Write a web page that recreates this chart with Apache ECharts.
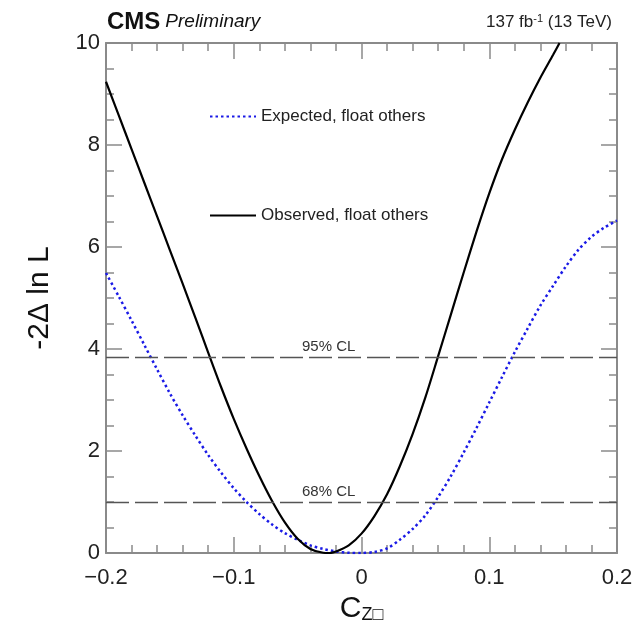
<!DOCTYPE html>
<html>
<head>
<meta charset="utf-8">
<script src="https://cdn.jsdelivr.net/npm/echarts@6/dist/echarts.min.js"></script>
<style>
  html, body { margin: 0; padding: 0; background: #fff; }
  #chart { width: 634px; height: 625px; }
</style>
</head>
<body>
<div id="chart"></div>
<script>
// observed scan, black solid
var obsX = [-0.20, -0.19, -0.18, -0.17, -0.16, -0.15, -0.14, -0.13, -0.12, -0.11, -0.10, -0.09, -0.08, -0.07, -0.06, -0.05, -0.04, -0.03, -0.025, -0.02, -0.01, 0.00, 0.01, 0.02, 0.03, 0.04, 0.05, 0.06, 0.07, 0.08, 0.09, 0.10, 0.11, 0.12, 0.13, 0.14, 0.15, 0.155];
var obsY = [9.24, 8.58, 7.92, 7.26, 6.60, 5.94, 5.28, 4.61, 3.93, 3.26, 2.63, 2.05, 1.51, 1.02, 0.60, 0.28, 0.08, 0.005, 0.00, 0.03, 0.15, 0.38, 0.72, 1.15, 1.70, 2.33, 3.05, 3.86, 4.68, 5.50, 6.30, 7.05, 7.72, 8.30, 8.83, 9.32, 9.77, 10.0];
// expected scan, blue dotted
var expX = [-0.20, -0.19, -0.18, -0.17, -0.16, -0.15, -0.14, -0.13, -0.12, -0.11, -0.10, -0.09, -0.08, -0.07, -0.06, -0.05, -0.04, -0.03, -0.02, -0.01, 0.00, 0.01, 0.02, 0.03, 0.04, 0.05, 0.06, 0.07, 0.08, 0.09, 0.10, 0.11, 0.12, 0.13, 0.14, 0.15, 0.16, 0.17, 0.18, 0.19, 0.20];
var expY = [5.49, 5.03, 4.56, 4.08, 3.60, 3.13, 2.70, 2.30, 1.92, 1.58, 1.27, 1.00, 0.765, 0.56, 0.39, 0.26, 0.15, 0.08, 0.03, 0.005, 0.00, 0.02, 0.09, 0.26, 0.47, 0.74, 1.10, 1.51, 1.97, 2.45, 2.95, 3.45, 3.94, 4.40, 4.85, 5.24, 5.62, 5.95, 6.20, 6.38, 6.52];
// confidence levels
var clNames = ['95% CL', '68% CL'];
var clValues = [3.84, 1.0];

var seriesNames = ['Expected, float others', 'Observed, float others'];

function pairs(xs, ys) {
  var out = [];
  for (var i = 0; i < xs.length; i++) out.push([xs[i], ys[i]]);
  return out;
}

var font = "'Liberation Sans', Arial, sans-serif";
var axisGrey = '#8a8a8a';

var myChart = echarts.init(document.getElementById('chart'), null, { renderer: 'canvas' });

var xBase = {
  type: 'value',
  min: -0.2,
  max: 0.2,
  interval: 0.1,
  splitLine: { show: false },
  axisLine: { show: true, onZero: false, lineStyle: { color: axisGrey, width: 2 } },
  axisTick: { show: true, inside: true, length: 16, lineStyle: { color: axisGrey, width: 1.5 } },
  minorTick: { show: true, splitNumber: 5, length: 8, lineStyle: { color: axisGrey, width: 1.5 } },
  minorSplitLine: { show: false }
};
var yBase = {
  type: 'value',
  min: 0,
  max: 10,
  interval: 2,
  splitLine: { show: false },
  axisLine: { show: true, onZero: false, lineStyle: { color: axisGrey, width: 2 } },
  axisTick: { show: true, inside: true, length: 16, lineStyle: { color: axisGrey, width: 1.5 } },
  minorTick: { show: true, splitNumber: 4, length: 8, lineStyle: { color: axisGrey, width: 1.5 } },
  minorSplitLine: { show: false }
};

var option = {
  backgroundColor: '#ffffff',
  animation: false,
  textStyle: { fontFamily: font },
  title: [
    {
      left: 107,
      top: 10,
      padding: 0,
      text: '{a|CMS} {b|Preliminary}',
      textStyle: {
        rich: {
          a: { fontFamily: font, fontSize: 24, fontWeight: 'bold', color: '#111' },
          b: { fontFamily: font, fontSize: 19, fontWeight: 'normal', fontStyle: 'italic', color: '#111' }
        }
      }
    },
    {
      right: 17,
      top: 8,
      text: '137 fb{s|-1} (13 TeV)',
      textStyle: {
        fontFamily: font, fontSize: 17, fontWeight: 'normal', color: '#222',
        rich: { s: { fontFamily: font, fontSize: 11, color: '#222', verticalAlign: 'top', padding: [0, 0, 8, 0] } }
      }
    }
  ],
  legend: {
    orient: 'vertical',
    left: 204,
    top: 103,
    itemWidth: 46,
    itemHeight: 14,
    itemGap: 82,
    data: seriesNames,
    itemStyle: { opacity: 0 },
    textStyle: { fontFamily: font, fontSize: 17, color: '#222' }
  },
  grid: {
    left: 106,
    right: 17,
    top: 43,
    bottom: 72,
    containLabel: false,
    outerBoundsMode: 'none'
  },
  xAxis: [
    Object.assign({}, xBase, {
      position: 'bottom',
      name: 'C{sub|Z□}',
      nameLocation: 'middle',
      nameGap: 40,
      nameTextStyle: {
        fontFamily: font, fontSize: 30, color: '#111',
        rich: { sub: { fontFamily: font, fontSize: 18, color: '#111', verticalAlign: 'bottom', padding: [12, 0, 0, 0] } }
      },
      axisLabel: {
        show: true, margin: 14, fontFamily: font, fontSize: 22, color: '#222',
        formatter: function (v) {
          var r = Math.round(v * 10) / 10;
          if (r === 0) return '0';
          return (r < 0 ? '\u2212' : '') + Math.abs(r).toFixed(1);
        }
      }
    }),
    Object.assign({}, xBase, {
      position: 'top',
      axisLabel: { show: false }
    })
  ],
  yAxis: [
    Object.assign({}, yBase, {
      position: 'left',
      name: '-2\u0394 ln L',
      nameLocation: 'middle',
      nameGap: 51,
      nameRotate: 90,
      nameTextStyle: { fontFamily: font, fontSize: 30, color: '#111' },
      axisLabel: { show: true, margin: 6, fontFamily: font, fontSize: 22, color: '#222' }
    }),
    Object.assign({}, yBase, {
      position: 'right',
      axisLabel: { show: false }
    })
  ],
  series: [
    {
      name: seriesNames[0],
      type: 'line',
      xAxisIndex: 0,
      yAxisIndex: 0,
      smooth: 0.3,
      symbol: 'none',
      clip: true,
      lineStyle: { color: '#1a1ae6', width: 2.5, type: [2.5, 3] },
      itemStyle: { color: '#1a1ae6' },
      data: pairs(expX, expY),
      markLine: {
        silent: true,
        symbol: 'none',
        lineStyle: { color: '#555', width: 1.3, type: [23, 6] },
        label: {
          show: true,
          position: 'insideStartTop',
          distance: [196, 3],
          formatter: '{b}',
          fontFamily: font,
          fontSize: 15,
          color: '#333'
        },
        data: clValues.map(function (v, i) { return { name: clNames[i], yAxis: v }; })
      }
    },
    {
      name: seriesNames[1],
      type: 'line',
      xAxisIndex: 0,
      yAxisIndex: 0,
      smooth: 0.3,
      symbol: 'none',
      clip: true,
      lineStyle: { color: '#000', width: 2.2 },
      itemStyle: { color: '#000' },
      data: pairs(obsX, obsY)
    }
  ]
};

myChart.setOption(option);
window.addEventListener('resize', function () {
  myChart.resize();
});
</script>
</body>
</html>
